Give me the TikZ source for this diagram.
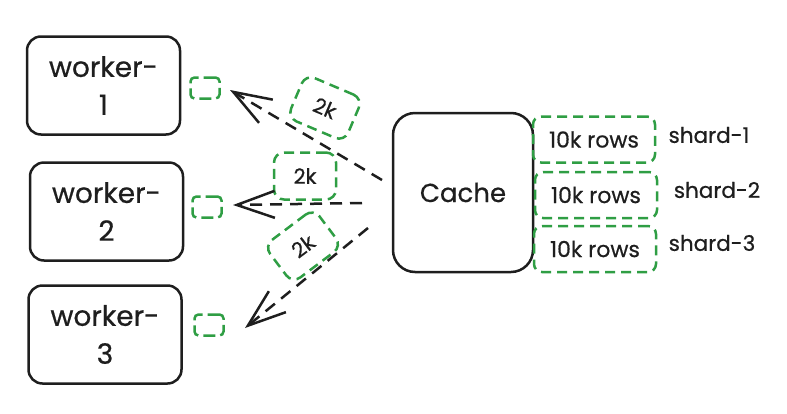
\documentclass[tikz,border=0pt]{standalone}
\usepackage{fontspec}
\setmainfont{Poppins}[FakeBold=0.6]
\usetikzlibrary{shapes,positioning,calc,arrows.meta}
\definecolor{shardgreen}{HTML}{2F9E44}
\definecolor{inkblack}{HTML}{1E1E1E}

\begin{document}
\begin{tikzpicture}[x=1pt,y=-1pt,line width=2.5pt,draw=inkblack,text=inkblack]
		\useasboundingbox (0,0) rectangle (787,413);
		\tikzset{
			worker/.style={draw=inkblack,
				rounded corners=14pt,
				minimum width=153pt,
				minimum height=98pt,
				align=center,
				font=\fontsize{28}{38}\selectfont},
			shardbox/.style={draw=shardgreen,
				dash pattern=on 10pt off 6pt,
				rounded corners=8pt,
				minimum width=122pt,
				minimum height=46pt,
				font=\fontsize{22}{24}\selectfont},
			slot/.style={draw=shardgreen,
				dash pattern=on 12pt off 5pt,
				rounded corners=4pt,
				minimum width=29pt,
				minimum height=21pt,
				inner sep=0pt},
			batch/.style={draw=shardgreen,
				dash pattern=on 10pt off 6pt,
				rounded corners=10pt,
				minimum width=62pt,
				minimum height=47pt,
				font=\fontsize{21}{22}\selectfont},
			flow/.style={draw=inkblack,
				dash pattern=on 12pt off 8pt,
				-{Straight Barb[length=38pt,width=27pt,line width=2.5pt]}}
		}

		\node[worker] (worker1) at (103.5,85.5) {worker-\\1};
		\node[worker] (worker2) at (106.5,211.5) {worker-\\2};
		\node[worker] (worker3) at (105,334.5) {worker-\\3};

		\node[slot] (slot1) at (205,88) {};
		\node[slot] (slot2) at (207,207) {};
		\node[slot] (slot3) at (209,325) {};

		\node[draw=inkblack,
			rounded corners=22pt,
			minimum width=140pt,
			minimum height=159pt,
			font=\fontsize{26}{30}\selectfont
		] (cache) at (463,192.5) {Cache};

		\node[shardbox] (shard1) at (594,139.5) {10k rows};
		\node[shardbox] (shard2) at (596,195) {10k rows};
		\node[shardbox] (shard3) at (595,249) {10k rows};

		\node[font=\fontsize{21.5}{24}\selectfont] (label1) at (709,135) {shard-1};
		\node[font=\fontsize{21.5}{24}\selectfont] (label2) at (717,190) {shard-2};
		\node[font=\fontsize{21.5}{24}\selectfont] (label3) at (712,243) {shard-3};

		\node[batch, rotate=-23] (batch1) at (325,108) {2k};
		\node[batch] (batch2) at (305,176) {2k};
		\node[batch, rotate=37] (batch3) at (303,246) {2k};

		\coordinate (tail1) at (382,180);
		\coordinate (tail2) at (362,203);
		\coordinate (tail3) at (368,228);
		\coordinate (head1) at (230,90);
		\coordinate (head2) at (233,205);
		\coordinate (head3) at (245,328);

		\draw[flow] (tail1) -- (head1);
		\draw[flow] (tail2) -- (head2);
		\draw[flow] (tail3) -- (head3);

	\end{tikzpicture}
\end{document}
